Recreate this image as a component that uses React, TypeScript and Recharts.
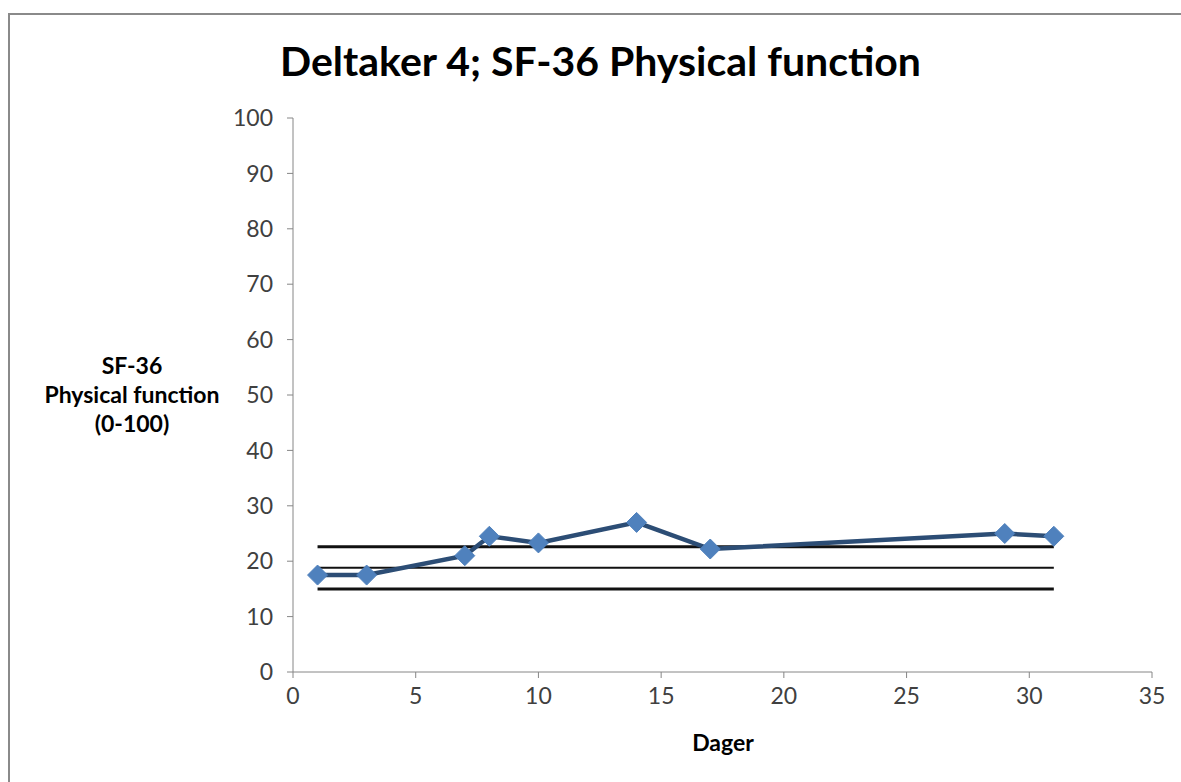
import React from "react";
import { ComposedChart, Line, XAxis, YAxis } from "recharts";

const days = [1, 3, 7, 8, 10, 14, 17, 29, 31];
const scores = [17.5, 17.5, 21, 24.5, 23.3, 27, 22.2, 25, 24.5];
const refLevels = [22.6, 18.8, 15];
const refWidths = [3, 2, 3];
const refStart = 1;
const refEnd = 31;
const xTicks = [0, 5, 10, 15, 20, 25, 30, 35];
const yTicks = [0, 10, 20, 30, 40, 50, 60, 70, 80, 90, 100];

const seriesData = days.map((d, i) => ({ x: d, y: scores[i] }));
const refData = refLevels.map((v) => [
  { x: refStart, y: v },
  { x: refEnd, y: v },
]);

const FONT = "Lato, 'Open Sans', sans-serif";

const Diamond = (props: any) => {
  const { cx, cy, index } = props;
  if (cx == null || cy == null) return <g key={index} />;
  const r = 10;
  return (
    <path
      key={index}
      d={`M${cx},${cy - r} L${cx + r},${cy} L${cx},${cy + r} L${cx - r},${cy} Z`}
      fill="#4F81BD"
      stroke="#4F81BD"
    />
  );
};

export default function App() {
  return (
    <div
      style={{
        position: "absolute",
        left: 0,
        top: 0,
        width: 1181,
        height: 782,
        fontFamily: FONT,
        overflow: "hidden",
        background: "#fff",
      }}
    >
      <div
        style={{
          position: "absolute",
          left: 8,
          top: 13,
          width: 1200,
          height: 800,
          borderLeft: "2px solid #8a8a8a",
          borderTop: "2px solid #8a8a8a",
          boxSizing: "border-box",
        }}
      />
      <div
        style={{
          position: "absolute",
          left: 8,
          width: 1185,
          top: 36,
          textAlign: "center",
          fontSize: 41,
          fontWeight: 700,
          color: "#000",
        }}
      >
        Deltaker 4; SF-36 Physical function
      </div>
      <div
        style={{
          position: "absolute",
          left: 12,
          width: 240,
          top: 351,
          textAlign: "center",
          fontSize: 23,
          fontWeight: 700,
          lineHeight: "29px",
          color: "#000",
        }}
      >
        SF-36
        <br />
        Physical function
        <br />
        (0-100)
      </div>
      <div
        style={{
          position: "absolute",
          left: 623,
          width: 200,
          top: 728,
          textAlign: "center",
          fontSize: 23,
          fontWeight: 700,
          color: "#000",
        }}
      >
        Dager
      </div>
      <div style={{ position: "absolute", left: 8, top: 8 }}>
        <ComposedChart
          width={1165}
          height={760}
          margin={{ top: 110, right: 21, left: 0, bottom: 0 }}
        >
          <XAxis
            type="number"
            dataKey="x"
            domain={[0, 35]}
            ticks={xTicks}
            allowDuplicatedCategory={false}
            height={96}
            stroke="#868686"
            tickSize={6}
            tickMargin={10}
            tick={{ fill: "#404040", fontSize: 23, fontFamily: FONT }}
          />
          <YAxis
            type="number"
            domain={[0, 100]}
            ticks={yTicks}
            width={285}
            stroke="#868686"
            tickSize={6}
            tickMargin={14}
            tick={{ fill: "#404040", fontSize: 23, fontFamily: FONT }}
          />
          {refData.map((d, i) => (
            <Line
              key={"ref" + i}
              data={d}
              dataKey="y"
              type="linear"
              stroke="#111"
              strokeWidth={refWidths[i]}
              dot={false}
              activeDot={false}
              isAnimationActive={false}
            />
          ))}
          <Line
            data={seriesData}
            dataKey="y"
            type="linear"
            stroke="#2C4D75"
            strokeWidth={4.5}
            dot={Diamond}
            activeDot={false}
            isAnimationActive={false}
          />
        </ComposedChart>
      </div>
    </div>
  );
}
